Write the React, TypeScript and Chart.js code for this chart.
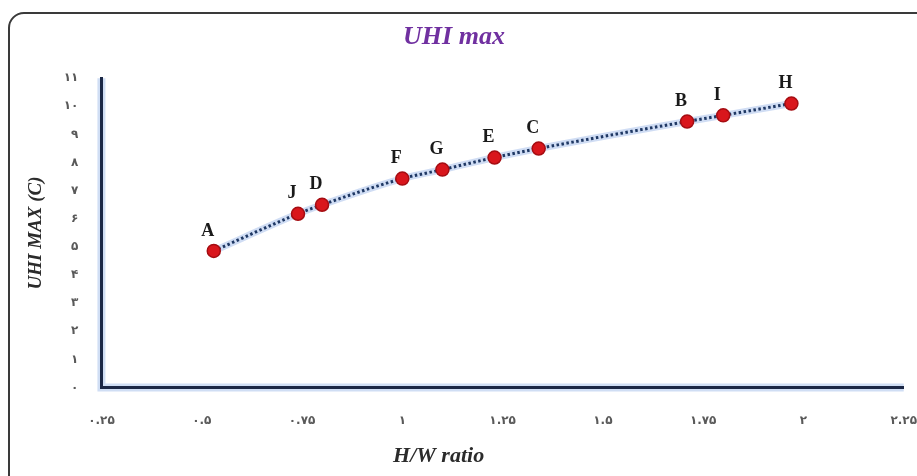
import React, { useEffect, useRef } from 'react';
import { Chart, registerables } from 'chart.js';

Chart.register(...registerables);

// ---- data ----
const categories = ['A', 'J', 'D', 'F', 'G', 'E', 'C', 'B', 'I', 'H'];
const hwRatio = [0.53, 0.74, 0.8, 1.0, 1.1, 1.23, 1.34, 1.71, 1.8, 1.97];
const uhiMax = [4.86, 6.18, 6.5, 7.43, 7.75, 8.18, 8.5, 9.46, 9.68, 10.1];

const xTickValues = [0.25, 0.5, 0.75, 1, 1.25, 1.5, 1.75, 2, 2.25];
const xTickLabels = ['۰.۲۵', '۰.۵', '۰.۷۵', '۱', '۱.۲۵', '۱.۵', '۱.۷۵', '۲', '۲.۲۵'];
const yTickValues = [0, 1, 2, 3, 4, 5, 6, 7, 8, 9, 10, 11];
const yTickLabels = ['۰', '۱', '۲', '۳', '۴', '۵', '۶', '۷', '۸', '۹', '۱۰', '۱۱'];

const chartTitle = 'UHI max';
const xTitle = 'H/W ratio';
const yTitle = 'UHI MAX (C)';

export default function App() {
  const ref = useRef<HTMLCanvasElement>(null);

  useEffect(() => {
    if (!ref.current) return;
    const points = categories.map((_, i) => ({ x: hwRatio[i], y: uhiMax[i] }));

    const axisGlow = {
      id: 'axisGlow',
      beforeDraw(chart: any) {
        const { ctx, chartArea: a } = chart;
        ctx.save();
        ctx.strokeStyle = 'rgba(170,195,235,0.55)';
        ctx.lineWidth = 8;
        ctx.beginPath();
        ctx.moveTo(a.left, a.top);
        ctx.lineTo(a.left, a.bottom);
        ctx.lineTo(a.right, a.bottom);
        ctx.stroke();
        ctx.restore();
      },
    };

    const pointLabels = {
      id: 'pointLabels',
      afterDatasetsDraw(chart: any) {
        const { ctx } = chart;
        const meta = chart.getDatasetMeta(0);
        ctx.save();
        ctx.font = 'bold 18px "Liberation Serif"';
        ctx.fillStyle = '#1a1a1a';
        ctx.textAlign = 'center';
        ctx.textBaseline = 'middle';
        meta.data.forEach((p: any, i: number) => {
          ctx.fillText(categories[i], p.x - 6, p.y - 20);
        });
        ctx.restore();
      },
    };

    const xAxisTitle = {
      id: 'xAxisTitle',
      afterDraw(chart: any) {
        const { ctx, chartArea: a } = chart;
        ctx.save();
        ctx.font = 'italic bold 22px "Liberation Serif"';
        ctx.fillStyle = '#2b2b2b';
        ctx.textAlign = 'center';
        ctx.textBaseline = 'middle';
        ctx.fillText(xTitle, (a.left + a.right) / 2 - 64, a.bottom + 69);
        ctx.restore();
      },
    };

    const tickFont = { family: 'DejaVu Sans', size: 12, weight: 'bold' as const };

    const chart = new Chart(ref.current, {
      type: 'scatter',
      data: {
        datasets: [
          {
            data: points,
            showLine: false,
            pointRadius: 6.5,
            pointBackgroundColor: '#d9161c',
            pointBorderColor: '#a50d12',
            pointBorderWidth: 1.5,
          },
          {
            data: points,
            showLine: true,
            borderColor: '#1f3864',
            borderWidth: 3,
            borderDash: [2.5, 2.5],
            pointRadius: 0,
            cubicInterpolationMode: 'monotone',
          },
          {
            data: points,
            showLine: true,
            borderColor: 'rgba(150,180,230,0.45)',
            borderWidth: 7,
            pointRadius: 0,
            cubicInterpolationMode: 'monotone',
          },
        ],
      },
      options: {
        responsive: false,
        animation: false,
        devicePixelRatio: 1,
        layout: { padding: { left: 4, right: 13, top: 0, bottom: 48 } },
        plugins: {
          legend: { display: false },
          tooltip: { enabled: false },
          title: {
            display: true,
            text: chartTitle,
            color: '#7030a0',
            font: { family: 'Liberation Serif', size: 26, weight: 'bold', style: 'italic' },
            padding: { top: 22, bottom: 25 },
          },
        },
        scales: {
          x: {
            type: 'linear',
            min: 0.25,
            max: 2.25,
            afterBuildTicks: (s: any) => {
              s.ticks = xTickValues.map((v) => ({ value: v }));
            },
            ticks: {
              callback: (_v: any, i: number) => xTickLabels[i],
              font: tickFont,
              color: '#595959',
              padding: 0,
              maxRotation: 0,
              autoSkip: false,
            },
            grid: { display: false, drawTicks: true, tickLength: 26 },
            border: { display: true, color: '#1c2846', width: 3 },
          },
          y: {
            type: 'linear',
            min: 0,
            max: 11,
            afterBuildTicks: (s: any) => {
              s.ticks = yTickValues.map((v) => ({ value: v }));
            },
            ticks: {
              callback: (_v: any, i: number) => yTickLabels[i],
              font: tickFont,
              color: '#595959',
              padding: 0,
              autoSkip: false,
            },
            grid: { display: false, drawTicks: true, tickLength: 23 },
            border: { display: true, color: '#1c2846', width: 3 },
            title: {
              display: true,
              text: yTitle,
              color: '#2b2b2b',
              font: { family: 'Liberation Serif', size: 19, weight: 'bold', style: 'italic' },
              padding: { top: 21, bottom: 16 },
            },
          },
        },
      },
      plugins: [axisGlow, pointLabels, xAxisTitle],
    } as any);

    return () => chart.destroy();
  }, []);

  return (
    <div
      style={{
        position: 'fixed',
        left: 0,
        top: 0,
        width: 917,
        height: 476,
        overflow: 'hidden',
        background: '#ffffff',
      }}
    >
      <div
        style={{
          position: 'absolute',
          left: 8,
          top: 12,
          width: 960,
          height: 520,
          border: '2px solid #3a3a3a',
          borderRadius: 16,
          boxSizing: 'border-box',
        }}
      />
      <canvas
        ref={ref}
        width={917}
        height={476}
        style={{ position: 'absolute', left: 0, top: 0, width: 917, height: 476 }}
      />
    </div>
  );
}
